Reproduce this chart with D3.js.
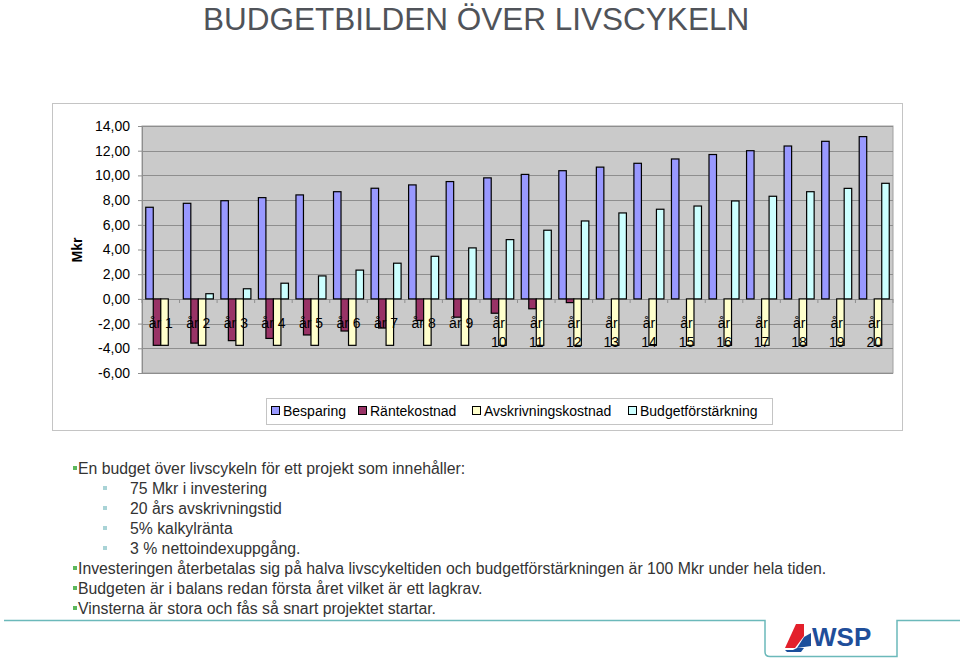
<!DOCTYPE html>
<html>
<head>
<meta charset="utf-8">
<script src="https://cdn.jsdelivr.net/npm/d3@7"></script>
<style>
  body { margin: 0; background: #fff; }
  text { font-family: Arial, "Liberation Sans", sans-serif; }
</style>
</head>
<body>
<div id="chart"></div>
<script>
// data
const years = ["år 1","år 2","år 3","år 4","år 5","år 6","år 7","år 8","år 9","år 10",
  "år 11","år 12","år 13","år 14","år 15","år 16","år 17","år 18","år 19","år 20"];
const besparing = [7.42, 7.74, 7.95, 8.2, 8.42, 8.68, 8.96, 9.23, 9.5, 9.8,
  10.08, 10.38, 10.67, 10.98, 11.33, 11.69, 12.0, 12.38, 12.76, 13.14];
const rantekostnad = [-3.76, -3.58, -3.38, -3.2, -2.92, -2.6, -2.36, -1.74, -1.48, -1.16,
  -0.8, -0.3, 0, 0, 0, 0, 0, 0, 0, 0];
const avskrivning = [-3.76, -3.76, -3.76, -3.76, -3.76, -3.76, -3.76, -3.76, -3.76, -3.76,
  -3.76, -3.76, -3.76, -3.76, -3.76, -3.76, -3.76, -3.76, -3.76, -3.76];
const budgetforstarkning = [0, 0.42, 0.82, 1.27, 1.86, 2.33, 2.89, 3.45, 4.13, 4.8,
  5.56, 6.31, 6.96, 7.26, 7.52, 7.93, 8.31, 8.68, 8.95, 9.36];
const seriesNames = ["Besparing", "Räntekostnad", "Avskrivningskostnad", "Budgetförstärkning"];
const seriesColors = ["#9999ff", "#993366", "#ffffcc", "#ccffff"];
const yTicks = [14, 12, 10, 8, 6, 4, 2, 0, -2, -4, -6];

const bullets = [
  {level: 0, text: "En budget över livscykeln för ett projekt som innehåller:"},
  {level: 1, text: "75 Mkr i investering"},
  {level: 1, text: "20 års avskrivningstid"},
  {level: 1, text: "5% kalkylränta"},
  {level: 1, text: "3 % nettoindexuppgång."},
  {level: 0, text: "Investeringen återbetalas sig på halva livscykeltiden och budgetförstärkningen är 100 Mkr under hela tiden."},
  {level: 0, text: "Budgeten är i balans redan första året vilket är ett lagkrav."},
  {level: 0, text: "Vinsterna är stora och fås så snart projektet startar."}
];

const width = 960, height = 661;
const plot = {left: 142, right: 893, top: 126, bottom: 373};

const svg = d3.select("#chart").append("svg")
  .attr("width", width)
  .attr("height", height);

// title
svg.append("text")
  .attr("x", 203).attr("y", 30)
  .attr("font-size", 31.5)
  .attr("fill", "#505359")
  .text("BUDGETBILDEN ÖVER LIVSCYKELN");

// chart frame
svg.append("rect")
  .attr("x", 52.5).attr("y", 103.5)
  .attr("width", 850).attr("height", 327)
  .attr("fill", "#fff")
  .attr("stroke", "#c4c4c4");

const x = d3.scaleBand()
  .domain(years)
  .range([plot.left, plot.right])
  .paddingInner(0.2)
  .paddingOuter(0.1);

const xs = d3.scaleBand()
  .domain(d3.range(4))
  .range([0, x.bandwidth()]);

const y = d3.scaleLinear()
  .domain([-6, 14])
  .range([plot.bottom, plot.top]);

// plot area
svg.append("rect")
  .attr("x", plot.left).attr("y", plot.top)
  .attr("width", plot.right - plot.left)
  .attr("height", plot.bottom - plot.top)
  .attr("fill", "#cacaca")
  .attr("stroke", "#a0a0a0");

// gridlines
svg.append("g")
  .selectAll("line")
  .data(yTicks)
  .join("line")
  .attr("x1", plot.left).attr("x2", plot.right)
  .attr("y1", d => Math.round(y(d)) + 0.5)
  .attr("y2", d => Math.round(y(d)) + 0.5)
  .attr("stroke", "#8e8e8e");

// y axis
const yAxis = svg.append("g")
  .attr("transform", `translate(${plot.left},0)`)
  .call(d3.axisLeft(y).tickValues(yTicks).tickSize(4).tickPadding(8)
    .tickFormat(d => d3.format(".2f")(d).replace(".", ",").replace("−", "-")));
yAxis.select(".domain").attr("stroke", "#8e8e8e");
yAxis.selectAll(".tick line").attr("stroke", "#8e8e8e");
yAxis.selectAll("text").attr("font-size", 14).attr("fill", "#000")
  .attr("font-family", "Arial, 'Liberation Sans', sans-serif");

svg.append("text")
  .attr("transform", "translate(82,250) rotate(-90)")
  .attr("text-anchor", "middle")
  .attr("font-size", 14)
  .attr("font-weight", "bold")
  .text("Mkr");

// x axis at zero
svg.append("line")
  .attr("x1", plot.left).attr("x2", plot.right)
  .attr("y1", Math.round(y(0)) + 0.5).attr("y2", Math.round(y(0)) + 0.5)
  .attr("stroke", "#8e8e8e");
svg.append("g")
  .selectAll("line")
  .data(d3.range(years.length + 1))
  .join("line")
  .attr("x1", i => plot.left + i * x.step())
  .attr("x2", i => plot.left + i * x.step())
  .attr("y1", Math.round(y(0)))
  .attr("y2", Math.round(y(0)) + 4)
  .attr("stroke", "#8e8e8e");

// bars
const allSeries = [besparing, rantekostnad, avskrivning, budgetforstarkning];
allSeries.forEach((vals, s) => {
  svg.append("g")
    .selectAll("rect")
    .data(vals.map((v, i) => ({year: years[i], v: v})).filter(d => d.v !== 0))
    .join("rect")
    .attr("x", d => x(d.year) + xs(s))
    .attr("width", xs.bandwidth())
    .attr("y", d => y(Math.max(0, d.v)))
    .attr("height", d => Math.abs(y(d.v) - y(0)))
    .attr("fill", seriesColors[s])
    .attr("stroke", "#000")
    .attr("stroke-width", 1.2);
});

// category labels, on top of the bars
const labels = svg.append("g")
  .selectAll("text")
  .data(years)
  .join("text")
  .attr("x", d => x(d) + x.bandwidth() / 2)
  .attr("y", y(0) + 29)
  .attr("text-anchor", "middle")
  .attr("font-size", 14)
  .attr("fill", "#000");
labels.each(function(d) {
  const t = d3.select(this);
  const n = +d.split(" ")[1];
  if (n < 10) {
    t.text(d);
  } else {
    t.append("tspan").attr("x", x(d) + x.bandwidth() / 2).text("år");
    t.append("tspan").attr("x", x(d) + x.bandwidth() / 2).attr("dy", 19).text(n);
  }
});

// legend
const legend = svg.append("g");
legend.append("rect")
  .attr("x", 266.5).attr("y", 398.5)
  .attr("width", 506).attr("height", 26)
  .attr("fill", "#fff")
  .attr("stroke", "#c4c4c4");
const legendX = [271, 358, 472, 628];
seriesNames.forEach((name, i) => {
  legend.append("rect")
    .attr("x", legendX[i] + 0.5).attr("y", 406.5)
    .attr("width", 8).attr("height", 8)
    .attr("fill", seriesColors[i])
    .attr("stroke", "#000");
  legend.append("text")
    .attr("x", legendX[i] + 12).attr("y", 416)
    .attr("font-size", 14)
    .text(name);
});

// bullet text
const bulletG = svg.append("g");
bullets.forEach((b, i) => {
  const yy = 474 + i * 20;
  const bx = b.level === 0 ? 73 : 103;
  bulletG.append("rect")
    .attr("x", bx).attr("y", yy - 8)
    .attr("width", 4).attr("height", 4)
    .attr("fill", b.level === 0 ? "#5cb85c" : "#a9d3d6");
  bulletG.append("text")
    .attr("x", b.level === 0 ? 78 : 130)
    .attr("y", yy)
    .attr("font-size", 15.8)
    .attr("fill", "#333")
    .text(b.text);
});

// bottom rule and logo box
svg.append("path")
  .attr("d", "M4,620.5 H765 V652 Q765,656.5 770,656.5 H897 V620.5 H960")
  .attr("fill", "none")
  .attr("stroke", "#6bb9ba")
  .attr("stroke-width", 1.5);

const logo = svg.append("g");
logo.append("polygon")
  .attr("points", "785,648 796,624 804,624 804,636 795,648")
  .attr("fill", "#e3202b");
logo.append("polygon")
  .attr("points", "797,648 804,637 811,633 811,646")
  .attr("fill", "#1c4f9c");
logo.append("polygon")
  .attr("points", "785,650 793,650 797,648 804,648 801,652 787,652")
  .attr("fill", "#1c4f9c");
logo.append("text")
  .attr("x", 812).attr("y", 646)
  .attr("font-size", 26)
  .attr("font-weight", "bold")
  .attr("fill", "#1f4e9a")
  .text("WSP");
</script>
</body>
</html>
